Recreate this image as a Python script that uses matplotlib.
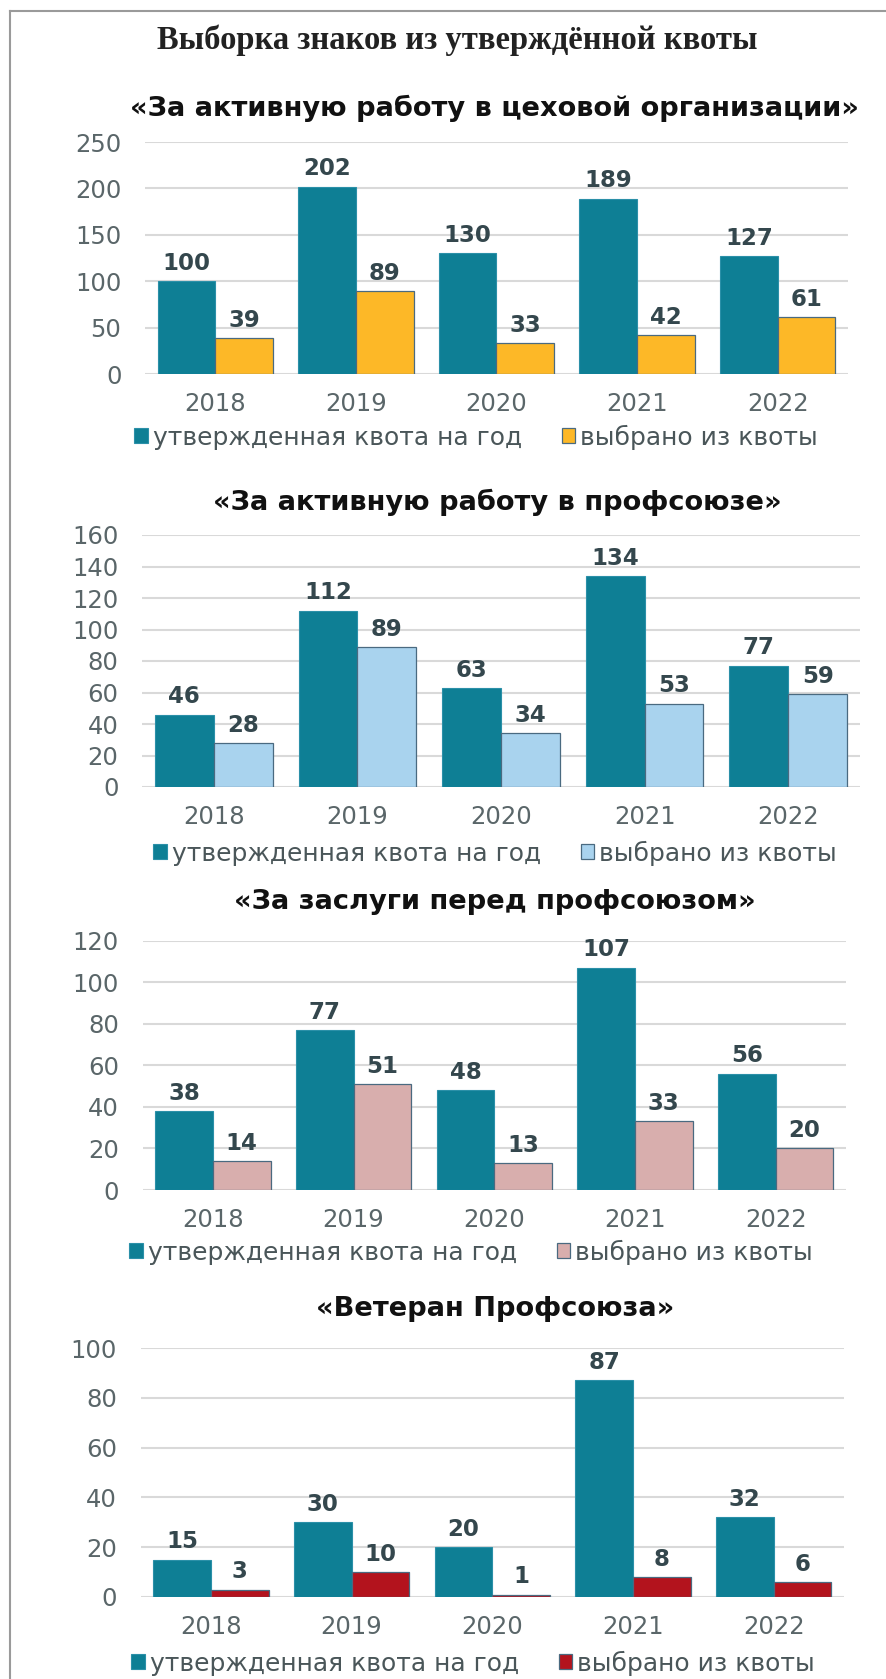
import matplotlib
matplotlib.use("Agg")
import matplotlib.pyplot as plt
import numpy as np

years = ["2018", "2019", "2020", "2021", "2022"]

titles = [
    "«За активную работу в цеховой организации»",
    "«За активную работу в профсоюзе»",
    "«За заслуги перед профсоюзом»",
    "«Ветеран Профсоюза»",
]

quota_1 = [100, 202, 130, 189, 127]
chosen_1 = [39, 89, 33, 42, 61]
quota_2 = [46, 112, 63, 134, 77]
chosen_2 = [28, 89, 34, 53, 59]
quota_3 = [38, 77, 48, 107, 56]
chosen_3 = [14, 51, 13, 33, 20]
quota_4 = [15, 30, 20, 87, 32]
chosen_4 = [3, 10, 1, 8, 6]

ymax = [250, 160, 120, 100]
ystep = [50, 20, 20, 20]

label_quota = "утвержденная квота на год"
label_chosen = "выбрано из квоты"

teal = "#0e7f95"
second_colors = ["#fdb827", "#a9d3ee", "#d8aead", "#b3131d"]

W, H = 887, 1679
fig = plt.figure(figsize=(W / 100, H / 100), dpi=100)
fig.patch.set_facecolor("white")

# frame lines of the scanned page
fig.add_artist(plt.Line2D([10 / W, 10 / W], [0, 1 - 11 / H], color="#9a9a9a", lw=1.5))
fig.add_artist(plt.Line2D([10 / W, 1], [1 - 11 / H, 1 - 11 / H], color="#9a9a9a", lw=1.5))

fig.text(457 / W, 1 - 40 / H, "Выборка знаков из утверждённой квоты",
         family="Liberation Serif", weight="bold", fontsize=23.5, color="#222222",
         ha="center", va="center")

# axes boxes in pixels: left, right, top, bottom
boxes = [(145, 848, 142, 374), (142, 860, 535, 787),
         (142.6, 846, 940.5, 1190), (140.6, 844, 1348, 1597)]
title_pos = [(494, 108), (497, 502), (495, 902), (495, 1309)]
legend_pos = [(476, 437), (495, 853), (471, 1252), (473, 1663)]

quotas = [quota_1, quota_2, quota_3, quota_4]
chosens = [chosen_1, chosen_2, chosen_3, chosen_4]

x = np.arange(len(years))
bw = 0.41

for i in range(4):
    l, r, t, b = boxes[i]
    ax = fig.add_axes([l / W, 1 - b / H, (r - l) / W, (b - t) / H])
    b1 = ax.bar(x - bw / 2, quotas[i], bw, color=teal, edgecolor="#2b90a8", lw=0.8,
                label=label_quota, zorder=3)
    b2 = ax.bar(x + bw / 2, chosens[i], bw, color=second_colors[i], edgecolor="#4a6a80",
                lw=0.9, label=label_chosen, zorder=3)
    for bars in (b1, b2):
        for rect in bars:
            ax.annotate(str(int(rect.get_height())),
                        (rect.get_x() + rect.get_width() / 2, rect.get_height()),
                        xytext=(0, 4.5), textcoords="offset points", ha="center",
                        va="bottom", fontsize=16.5, weight="bold", color="#34474d")
    ax.set_xlim(-0.5, len(years) - 0.5)
    ax.set_ylim(0, ymax[i])
    ax.set_yticks(np.arange(0, ymax[i] + 1, ystep[i]))
    ax.set_xticks(x)
    ax.set_xticklabels(years)
    ax.grid(axis="y", color="#d9d9d9", lw=1.5, zorder=0)
    ax.set_axisbelow(True)
    for s in ax.spines.values():
        s.set_visible(False)
    ax.tick_params(length=0, labelsize=17.5, labelcolor="#5a6669")
    ax.tick_params(axis="y", pad=17)
    ax.tick_params(axis="x", pad=13)

    tx, ty = title_pos[i]
    fig.text(tx / W, 1 - ty / H, titles[i], family="DejaVu Sans", weight="bold",
             fontsize=19.6, color="#111111", ha="center", va="center")

    lx, ly = legend_pos[i]
    ax.legend(loc="center", bbox_to_anchor=(lx / W, 1 - ly / H),
              bbox_transform=fig.transFigure, ncol=2, frameon=False,
              fontsize=18, handlelength=0.55, handleheight=0.55, handletextpad=0.2,
              columnspacing=1.6, labelcolor="#4a5659", borderaxespad=0)

fig.savefig("out.png", dpi=100)
